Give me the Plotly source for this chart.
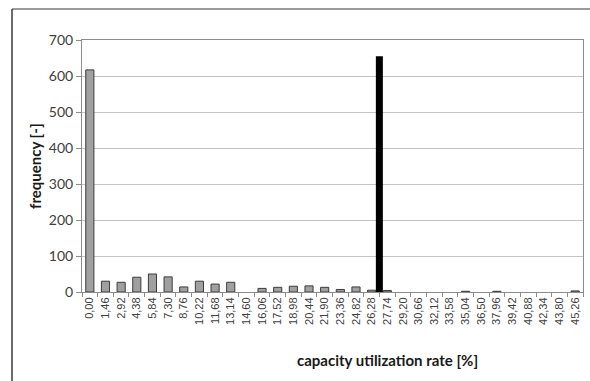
import plotly.graph_objects as go

# Histogram classes (capacity utilization rate, %) and frequencies
class_labels = ["0,00", "1,46", "2,92", "4,38", "5,84", "7,30", "8,76", "10,22",
                "11,68", "13,14", "14,60", "16,06", "17,52", "18,98", "20,44", "21,90",
                "23,36", "24,82", "26,28", "27,74", "29,20", "30,66", "32,12", "33,58",
                "35,04", "36,50", "37,96", "39,42", "40,88", "42,34", "43,80", "45,26"]
frequency = [617, 30, 27, 41, 50, 42, 14, 30, 22, 27, 0, 10, 13, 16, 17, 13,
             7, 14, 5, 4, 0, 0, 0, 0, 2, 0, 2, 0, 0, 0, 0, 3]

class_width = 1.46
limit_rate = 27.0      # marked utilization rate [%]
limit_height = 655

positions = list(range(len(class_labels)))
limit_pos = limit_rate / class_width
# empty classes are left blank instead of drawing a flat outline
bar_values = [v if v > 0 else None for v in frequency]

fig = go.Figure()
fig.add_trace(go.Bar(
    x=positions, y=bar_values,
    marker=dict(color="#a0a0a0", line=dict(color="#3c3c3c", width=1)),
    showlegend=False,
))
fig.add_trace(go.Scatter(
    x=[limit_pos, limit_pos], y=[0, limit_height],
    mode="lines", line=dict(color="black", width=7),
    showlegend=False,
))

fig.update_layout(
    width=590, height=381,
    margin=dict(l=82, r=7, t=40, b=89),
    paper_bgcolor="white", plot_bgcolor="white",
    bargap=0.48,
    font=dict(family="Lato, 'Liberation Sans', sans-serif", color="#404040"),
    xaxis=dict(
        range=[-0.5, len(class_labels) - 0.5],
        tickvals=positions, ticktext=class_labels,
        tickangle=-90, tickfont=dict(size=11, family="'Liberation Sans', sans-serif", color="#404040"),
        ticks="", showgrid=False, zeroline=False,
        showline=True, linecolor="#8c8c8c", linewidth=1, mirror=True,
        minor=dict(tickvals=[p - 0.5 for p in positions] + [len(class_labels) - 0.5],
                   ticks="outside", ticklen=4, tickcolor="#8c8c8c", showgrid=False),
    ),
    yaxis=dict(
        range=[0, 700], dtick=100,
        tickfont=dict(size=14, color="#404040"),
        ticks="outside", ticklen=5, tickcolor="#8c8c8c",
        showgrid=True, gridcolor="#c4c4c4", gridwidth=1,
        zeroline=False,
        showline=True, linecolor="#8c8c8c", linewidth=1, mirror=True,
    ),
    annotations=[
        dict(text="<b>capacity utilization rate [%]</b>", xref="paper", yref="paper",
             x=(387 - 82) / 501, y=(292 - 360) / 252, xanchor="center", yanchor="middle",
             showarrow=False, font=dict(size=15, color="#1a1a1a")),
        dict(text="<b>frequency [-]</b>", xref="paper", yref="paper",
             x=(35 - 82) / 501, y=0.5, xanchor="center", yanchor="middle",
             textangle=-90, showarrow=False,
             font=dict(size=15, color="#1a1a1a")),
    ],
    shapes=[
        # outer chart-area frame (top and left edges)
        dict(type="line", xref="paper", yref="paper",
             x0=(12 - 82) / 501, x1=(600 - 82) / 501,
             y0=(292 - 9) / 252, y1=(292 - 9) / 252,
             line=dict(color="#7a7a7a", width=1.5)),
        dict(type="line", xref="paper", yref="paper",
             x0=(12 - 82) / 501, x1=(12 - 82) / 501,
             y0=(292 - 9) / 252, y1=(292 - 400) / 252,
             line=dict(color="#3a3a3a", width=1.5)),
    ],
)

fig.write_html("out.html")
